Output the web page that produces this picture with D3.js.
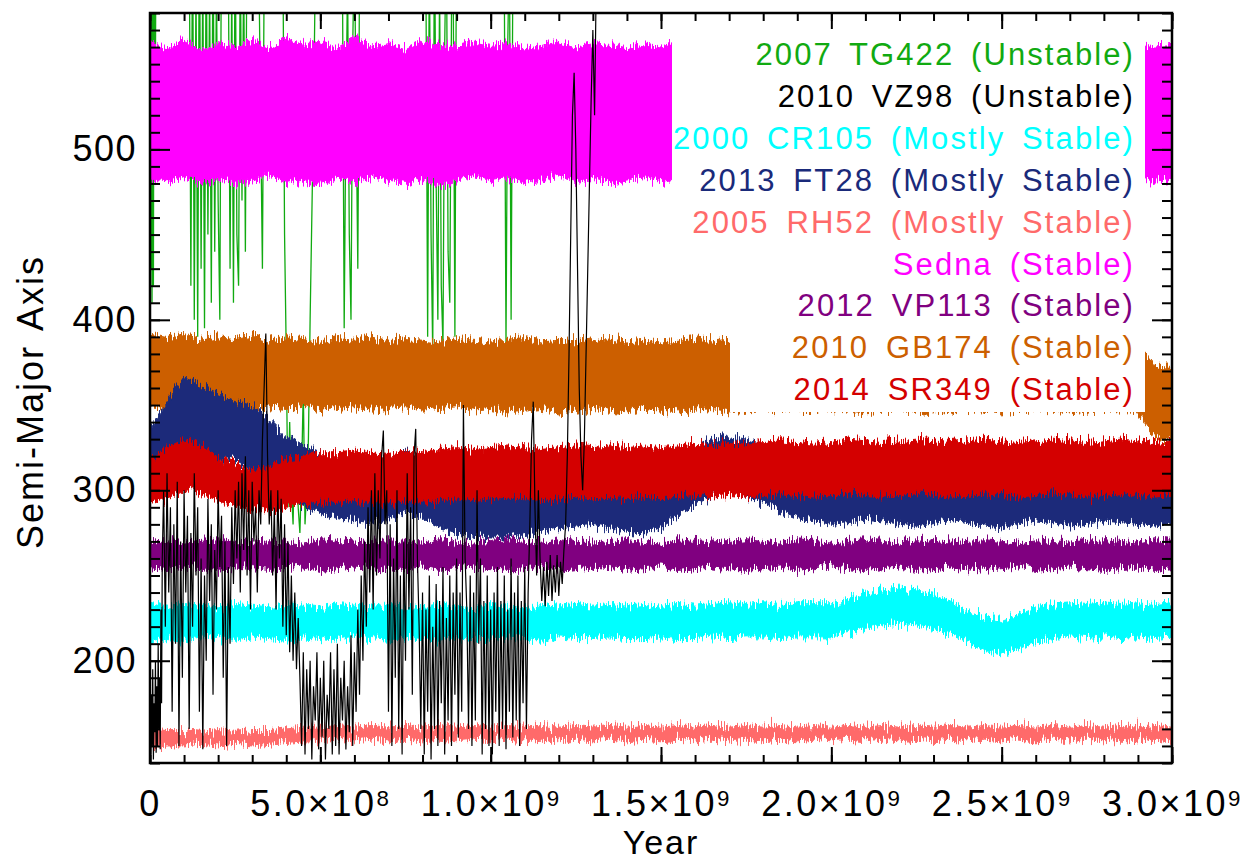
<!DOCTYPE html>
<html><head><meta charset="utf-8">
<script src="https://cdn.jsdelivr.net/npm/d3@7"></script>
<style>
body{margin:0;background:#fff;}
text{font-family:"Liberation Sans",Arial,sans-serif;}
</style></head><body><svg id="c" width="1243" height="863"></svg>
<script>
// time grid for band series, in units of 1e8 years
const bandT = [0,0.5,1,1.5,2,2.5,3,3.5,4,4.5,5,5.5,6,6.5,7,7.5,8,8.5,9,9.5,10,10.5,11,11.5,12,12.5,13,13.5,14,14.5,15,15.5,16,16.5,17,17.5,18,18.5,19,19.5,20,20.5,21,21.5,22,22.5,23,23.5,24,24.5,25,25.5,26,26.5,27,27.5,28,28.5,29,29.5,30];

const sednaLo = [482,481,484,480,483,479,482,485,480,482,478,483,481,484,482,480,483,479,482,484,481,483,480,482,485,481,483,480,482,484,481,483,480,482,484,481,483,480,482,481,483,480,482,484,481,483,480,482,484,481,483,480,482,484,481,482,483,481,480,482,483];
const sednaHi = [562,559,564,558,562,560,564,559,566,561,563,559,565,560,562,559,564,561,560,563,561,562,559,561,563,560,562,561,559,562,560,563,561,559,562,560,563,561,559,562,560,563,561,559,562,560,563,561,559,562,560,563,561,559,562,560,563,561,562,560,561];

const gb174Lo = [349,348,350,347,349,348,347,349,348,350,347,348,349,347,348,349,347,348,349,347,348,346,347,348,346,347,348,347,346,348,347,346,347,348,346,347,348,347,346,347,348,347,346,347,348,347,346,347,348,347,346,347,348,347,346,347,348,347,346,331,330];
const gb174Hi = [391,389,392,388,390,389,391,388,390,389,387,389,388,390,387,389,388,387,389,388,387,388,389,387,388,387,389,388,387,388,387,388,389,387,388,387,388,387,388,387,388,387,388,387,388,387,388,387,388,387,388,387,388,387,388,387,387,386,385,373,372];

const ft28Lo = [300,308,325,322,320,318,312,302,295,290,287,284,282,280,283,287,284,278,275,273,272,272,274,276,278,279,280,278,276,275,278,285,292,296,298,296,293,288,284,282,280,281,283,282,280,279,281,283,281,279,278,280,282,281,279,280,282,281,280,279,281];
const ft28Hi = [336,352,366,362,356,352,350,342,332,326,322,318,315,313,318,324,320,312,308,302,300,302,304,306,310,312,313,310,306,305,310,318,325,330,332,330,326,320,315,312,312,313,315,314,312,311,313,315,313,311,310,312,314,313,311,312,314,313,312,311,313];

const sr349Lo = [292,296,300,298,294,290,288,288,290,292,293,293,294,293,292,294,293,294,295,294,295,296,295,294,295,296,295,296,295,296,295,296,297,296,297,296,297,298,297,296,297,298,297,296,297,298,297,296,297,298,297,296,297,298,297,296,297,298,297,296,297];
const sr349Hi = [318,325,330,326,320,316,312,314,318,320,322,322,323,322,321,323,322,324,325,324,325,326,325,324,325,326,325,326,325,326,325,326,327,326,328,327,328,329,328,327,328,330,329,328,329,330,329,328,329,330,329,328,329,330,329,328,329,330,329,328,329];

const vp113Lo = [254,253,255,254,253,255,254,253,254,255,253,254,255,254,253,254,255,253,254,255,254,253,254,255,253,254,255,254,253,254,255,253,254,255,254,253,254,255,253,254,255,254,253,254,255,253,254,255,254,253,254,255,253,254,255,254,253,254,255,253,254];
const vp113Hi = [270,271,269,270,271,269,270,271,270,269,271,270,269,270,271,270,269,271,270,269,270,271,270,269,271,270,269,270,271,270,269,271,270,269,270,271,270,269,271,270,269,270,271,270,269,271,270,269,270,271,270,269,271,270,269,270,271,270,269,271,270];

const cr105Lo = [211,213,212,214,213,212,214,213,212,214,213,212,214,213,212,214,213,212,214,213,212,214,213,212,214,213,213,214,213,213,214,213,213,214,213,214,214,213,214,214,214,216,219,221,222,221,219,215,211,206,204,207,211,213,214,213,214,213,214,213,214];
const cr105Hi = [235,232,233,232,231,233,232,231,233,232,231,233,232,231,233,232,231,233,232,231,233,232,231,233,232,233,232,233,232,233,232,233,232,233,234,233,234,233,234,234,234,236,239,241,242,241,239,235,229,225,223,227,231,233,234,233,234,233,234,233,234];

const rh52Lo = [149,150,150,151,150,151,150,151,152,153,153,154,153,154,153,154,153,154,153,154,153,154,153,154,153,154,153,154,153,154,153,154,153,154,153,154,153,154,153,154,153,154,153,154,153,154,153,154,153,154,153,154,153,154,153,154,153,154,153,154,153];
const rh52Hi = [160,159,159,158,159,158,159,159,160,161,161,162,161,162,161,162,161,162,161,162,161,162,161,162,161,162,161,162,161,162,161,162,161,162,161,162,161,162,161,162,161,162,161,162,161,162,161,162,161,162,161,162,161,162,161,162,161,162,161,162,161];

// unstable objects: time (1e8 yr) and semi-major axis
const vz98T = [0,0.02,0.04,0.06,0.08,0.1,0.12,0.14,0.16,0.18,0.2,0.22,0.24,0.26,0.28,0.3,0.32,0.34,
 0.36,0.4,0.45,0.5,0.55,0.6,0.65,0.7,0.75,0.8,0.85,0.9,0.95,1.0,1.05,1.1,1.15,1.2,1.25,1.3,1.35,1.4,1.45,1.5,1.55,1.6,1.65,1.7,1.75,1.8,1.85,1.9,1.95,2.0,2.05,2.1,2.15,2.2,2.25,2.3,2.35,2.4,2.45,2.5,2.55,2.6,2.65,2.7,2.75,2.8,2.85,2.9,2.95,3.0,3.05,3.1,3.15,3.2,3.25,3.3,3.35,3.4,3.45,3.5,3.55,3.6,
 3.65,3.7,3.75,3.8,3.85,3.9,3.95,4.0,4.05,4.1,4.15,4.2,4.25,4.3,4.35,
 4.4,4.45,4.5,4.55,4.6,4.65,4.7,4.75,4.8,4.85,4.9,4.95,5.0,5.05,5.1,5.15,5.2,5.25,5.3,5.35,5.4,5.45,5.5,5.55,5.6,5.65,5.7,5.75,5.8,5.85,5.9,5.95,6.0,6.05,6.1,6.15,6.2,6.25,
 6.3,6.35,6.4,6.45,6.5,6.55,6.6,6.65,6.7,6.75,6.8,6.85,6.9,
 6.95,7.0,7.05,7.1,7.15,7.2,7.25,7.3,7.35,7.4,7.45,7.5,7.55,7.6,7.65,7.7,7.75,7.8,7.85,7.9,
 7.95,8.0,8.05,8.1,8.15,8.2,8.25,8.3,8.35,8.4,8.45,8.5,8.55,8.6,8.65,8.7,8.75,8.8,8.85,8.9,8.95,9.0,9.05,9.1,9.15,9.2,9.25,9.3,9.35,
 9.4,9.45,9.5,9.55,9.6,9.65,9.7,9.75,9.8,9.85,9.9,9.95,10.0,10.05,10.1,10.15,10.2,10.25,10.3,10.35,10.4,10.45,10.5,10.55,10.6,10.65,10.7,10.75,10.8,10.85,10.9,10.95,11.0,11.05,11.1,
 11.15,11.2,11.25,11.3,11.35,11.4,11.45,
 11.5,11.55,11.6,11.65,11.7,11.75,11.8,11.85,11.9,11.95,12.0,12.05,12.1,12.15,
 12.2,12.25,12.3,12.35,12.4,12.45,12.5,12.55,12.6,12.65,12.7,12.75,12.8,12.85,12.9,12.95,13.0,13.05,13.1,13.2];
const vz98A = [165,145,180,150,195,142,175,158,200,146,185,150,210,160,190,148,230,175,
 260,300,220,310,240,290,170,280,210,305,150,270,190,300,240,285,160,275,220,310,250,290,170,260,148,250,200,295,235,280,180,265,230,300,255,285,190,270,150,255,210,290,245,300,260,305,240,310,265,320,250,300,230,305,270,290,240,300,280,330,360,392,320,280,300,250,
 290,230,300,260,295,220,280,215,270,205,250,200,240,195,225,
 190,150,205,145,195,160,200,142,185,165,205,148,190,155,200,142,180,160,205,145,195,150,210,145,190,165,200,148,185,158,215,150,205,170,230,180,250,200,
 270,220,290,240,300,230,310,250,300,260,320,335,280,
 300,170,280,150,260,190,300,160,250,145,270,200,310,230,290,180,320,336,260,220,
 160,240,145,230,170,250,142,220,160,245,150,235,175,255,145,225,165,250,150,240,180,260,155,240,170,350,260,230,160,
 250,150,240,165,300,210,260,145,235,160,250,150,230,145,240,170,255,150,235,160,250,148,230,170,260,155,240,165,250,150,235,175,255,160,240,
 280,330,352,290,250,300,260,
 235,255,232,258,238,262,235,256,240,262,238,258,245,265,
 280,320,380,450,520,545,500,430,360,320,300,330,380,430,480,530,570,520,600,700];

const tg422T = [0,0.02,0.04,0.06,0.08,0.1,0.12,0.15,0.18,0.25,0.3,0.45,0.55,0.6,0.8,1.0,1.1,1.15,1.2,1.25,1.3,1.35,1.4,1.45,1.5,1.55,1.6,1.65,1.7,1.75,1.8,1.85,1.9,1.95,2.0,2.05,2.1,2.2,2.3,2.35,2.4,2.45,2.5,2.55,2.6,2.65,2.7,2.75,2.8,2.85,2.9,3.1,3.2,3.3,3.35,3.4,3.7,3.8,3.9,3.95,4.0,4.05,4.1,4.15,4.2,4.25,4.3,4.35,4.4,4.45,4.5,4.55,4.6,4.65,4.7,4.75,4.8,4.85,4.9,5.3,5.6,5.65,5.7,5.75,5.8,5.85,5.9,5.95,6.0,6.1,6.15,6.2,7.0,8.0,8.1,8.15,8.2,8.25,8.3,8.35,8.4,8.45,8.5,8.55,8.6,8.65,8.7,8.75,8.8,8.85,8.9,8.95,9.0,9.3,10.3,10.4,10.45,10.5,10.55,10.6,10.65,10.7,11.0];
const tg422A = [560,430,610,410,600,420,640,500,650,600,680,620,590,650,700,640,600,640,420,640,400,600,390,650,430,610,395,630,450,600,410,640,440,600,470,400,650,600,610,430,600,410,640,450,420,620,470,610,440,650,700,620,600,430,600,650,640,600,620,450,380,290,340,300,280,330,320,290,275,310,360,280,300,330,400,460,520,600,650,640,700,600,395,520,600,450,400,560,620,430,600,650,700,650,600,390,620,450,380,640,480,400,600,420,385,560,630,440,410,580,600,390,650,700,650,600,385,560,620,400,600,680,750];

const legendLabels = ["2007 TG422 (Unstable)","2010 VZ98 (Unstable)","2000 CR105 (Mostly Stable)","2013 FT28 (Mostly Stable)","2005 RH52 (Mostly Stable)","Sedna (Stable)","2012 VP113 (Stable)","2010 GB174 (Stable)","2014 SR349 (Stable)"];
const legendColors = ["#11aa11","#000000","#00ffff","#1a2a7a","#ff6a6a","#ff00ff","#800080","#cc5f00","#d40000"];

const xMajor = [0,5e8,1e9,1.5e9,2e9,2.5e9,3e9];
const yMajor = [200,300,400,500];

const svg = d3.select("#c");
const x = d3.scaleLinear().domain([0,3e9]).range([150,1172]);
const y = d3.scaleLinear().domain([140,580]).range([763,13]);

const defs = svg.append("defs");
defs.append("clipPath").attr("id","clip")
  .append("rect").attr("x",150).attr("y",13).attr("width",1022).attr("height",750);
// jagged edge texture for the oscillating bands (vertical displacement only)
const f = defs.append("filter").attr("id","rough").attr("filterUnits","userSpaceOnUse")
  .attr("x",0).attr("y",0).attr("width",1243).attr("height",863);
f.append("feTurbulence").attr("type","fractalNoise").attr("baseFrequency","0.7 0.04")
  .attr("numOctaves",2).attr("seed",5).attr("result","n");
f.append("feColorMatrix").attr("in","n").attr("type","matrix")
  .attr("values","0 0 0 0 0.5  0 1 0 0 0  0 0 0 0 0.5  0 0 0 0 1").attr("result","m");
f.append("feDisplacementMap").attr("in","SourceGraphic").attr("in2","m")
  .attr("scale",22).attr("xChannelSelector","R").attr("yChannelSelector","G");

const plot = svg.append("g").attr("clip-path","url(#clip)");

function band(lo, hi, color){
  const d = bandT.map((t,i)=>({t:t*1e8, lo:lo[i], hi:hi[i]}));
  plot.append("path").datum(d)
    .attr("fill",color).attr("stroke",color).attr("stroke-width",1)
    .attr("filter","url(#rough)")
    .attr("d", d3.area().x(p=>x(p.t)).y0(p=>y(p.lo)).y1(p=>y(p.hi)));
}
function line(ts, as, color, w){
  const d = ts.map((t,i)=>({t:t*1e8, a:as[i]}));
  plot.append("path").datum(d)
    .attr("fill","none").attr("stroke",color).attr("stroke-width",w)
    .attr("d", d3.line().x(p=>x(p.t)).y(p=>y(p.a)));
}

line(tg422T, tg422A, legendColors[0], 1.3);
band(sednaLo, sednaHi, legendColors[5]);
band(gb174Lo, gb174Hi, legendColors[7]);
band(ft28Lo, ft28Hi, legendColors[3]);
band(sr349Lo, sr349Hi, legendColors[8]);
band(vp113Lo, vp113Hi, legendColors[6]);
band(cr105Lo, cr105Hi, legendColors[2]);
band(rh52Lo, rh52Hi, legendColors[4]);
line(vz98T, vz98A, legendColors[1], 1.2);

// legend background and labels
const lg = svg.append("g");
lg.append("path").attr("fill","#fff")
  .attr("d","M672,14H1145V412H730V300H672Z");
lg.selectAll("text").data(legendLabels).join("text")
  .attr("x",1135).attr("y",(d,i)=>65+i*41.9)
  .attr("text-anchor","end").attr("font-size",31)
  .attr("letter-spacing",2.1).attr("word-spacing",6)
  .attr("fill",(d,i)=>legendColors[i]).text(d=>d);

// axes
const minorX = d3.range(0,3.01e9,1e8);
const minorY = d3.range(140,581,10);
svg.append("g").attr("transform","translate(0,763)")
  .call(d3.axisBottom(x).tickValues(minorX).tickSizeInner(-8).tickSizeOuter(0).tickFormat(""));
const gxM = svg.append("g").attr("transform","translate(0,763)");
gxM.call(d3.axisBottom(x).tickValues(xMajor).tickSizeInner(-16).tickSizeOuter(0).tickPadding(27));
gxM.selectAll(".tick text").each(function(v){
  const t = d3.select(this); t.text("");
  if(v===0){ t.text("0"); return; }
  const e = Math.floor(Math.log10(v)+1e-9);
  const m = v/Math.pow(10,e);
  t.append("tspan").text(m.toFixed(1)+"\u00d710");
  t.append("tspan").attr("dy","-0.45em").attr("font-size","0.62em").text(e);
});
svg.append("g").attr("transform","translate(0,13)")
  .call(d3.axisTop(x).tickValues(minorX).tickSizeInner(-8).tickSizeOuter(0).tickFormat(""));
svg.append("g").attr("transform","translate(0,13)")
  .call(d3.axisTop(x).tickValues(xMajor).tickSizeInner(-16).tickSizeOuter(0).tickFormat(""));

svg.append("g").attr("transform","translate(150,0)")
  .call(d3.axisLeft(y).tickValues(minorY).tickSizeInner(-10).tickSizeOuter(0).tickFormat(""));
const gyM = svg.append("g").attr("transform","translate(150,0)");
gyM.call(d3.axisLeft(y).tickValues(yMajor).tickSizeInner(-20).tickSizeOuter(0).tickPadding(13));
svg.append("g").attr("transform","translate(1172,0)")
  .call(d3.axisRight(y).tickValues(minorY).tickSizeInner(-10).tickSizeOuter(0).tickFormat(""));
svg.append("g").attr("transform","translate(1172,0)")
  .call(d3.axisRight(y).tickValues(yMajor).tickSizeInner(-20).tickSizeOuter(0).tickFormat(""));

svg.selectAll(".domain").remove();
svg.selectAll(".tick line").attr("stroke","#000").attr("stroke-width",2);
svg.selectAll(".tick text").attr("fill","#000").attr("font-family","Liberation Sans, Arial, sans-serif");
gxM.selectAll(".tick text").attr("font-size",36).attr("letter-spacing",2.5);
gyM.selectAll(".tick text").attr("font-size",36).attr("letter-spacing",1.5);

svg.append("rect").attr("x",150).attr("y",13).attr("width",1022).attr("height",750)
  .attr("fill","none").attr("stroke","#000").attr("stroke-width",2.5);

svg.append("text").attr("x",661).attr("y",854).attr("text-anchor","middle")
  .attr("font-size",34).attr("letter-spacing",2).text("Year");
svg.append("text").attr("transform","translate(43,402) rotate(-90)").attr("text-anchor","middle")
  .attr("font-size",36).attr("letter-spacing",2).attr("word-spacing",4).text("Semi-Major Axis");
</script></body></html>
